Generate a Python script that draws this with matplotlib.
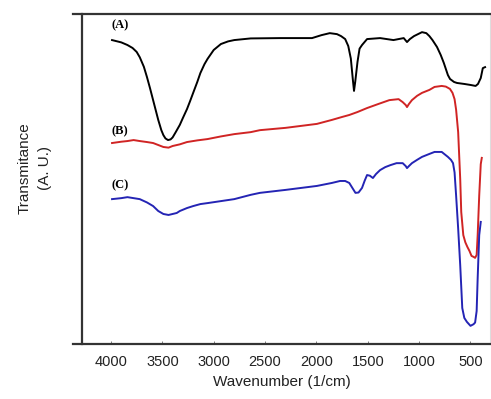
import matplotlib.pyplot as plt

# wavenumber (1/cm) and transmittance (arbitrary units, offset per sample)
wn_a = [3990, 3900, 3840, 3790, 3750, 3720, 3680, 3650, 3620, 3590, 3560,
        3540, 3510, 3490, 3470, 3445, 3420, 3400, 3370, 3330, 3300, 3260,
        3230, 3200, 3160, 3130, 3090, 3060, 3000, 2930, 2860, 2800, 2640,
        2350, 2043, 1950, 1870, 1800, 1760, 1720, 1690, 1665, 1645, 1634,
        1622, 1600, 1580, 1556, 1507, 1380, 1250, 1150, 1118, 1090, 1050,
        972, 930, 900, 870, 826, 790, 760, 720, 699, 660, 631, 560, 500,
        450, 427, 400, 380, 358]
tr_a = [92.1, 91.4, 90.6, 89.7, 88.5, 86.9, 84.0, 80.9, 77.5, 73.9, 70.3,
        67.9, 64.8, 63.3, 62.3, 61.8, 62.0, 62.6, 64.2, 66.4, 68.5, 71.2,
        73.6, 76.1, 79.4, 82.1, 84.8, 86.4, 89.1, 90.9, 91.7, 92.1, 92.6,
        92.7, 92.7, 93.6, 94.2, 93.9, 93.3, 92.4, 90.3, 86.5, 80.0, 76.7,
        79.5, 85.5, 89.5, 90.6, 92.4, 92.7, 92.1, 92.7, 91.5, 92.4, 93.3,
        94.5, 94.2, 93.3, 92.1, 90.0, 87.6, 85.2, 81.5, 80.3, 79.4, 79.1,
        78.8, 78.5, 78.2, 78.8, 80.6, 83.6, 83.9]

wn_b = [3990, 3900, 3840, 3780, 3720, 3650, 3590, 3540, 3490, 3440, 3400,
        3330, 3260, 3160, 3060, 2930, 2800, 2640, 2550, 2300, 1995, 1850,
        1750, 1680, 1600, 1507, 1400, 1290, 1200, 1160, 1130, 1118, 1100,
        1070, 1020, 972, 900, 850, 780, 740, 700, 675, 655, 640, 620, 600,
        590, 570, 550, 530, 510, 490, 470, 455, 440, 430, 415, 400, 390]
tr_b = [60.9, 61.3, 61.5, 61.8, 61.5, 61.2, 60.9, 60.3, 59.7, 59.5, 60.0,
        60.5, 61.2, 61.7, 62.1, 62.9, 63.6, 64.2, 64.8, 65.5, 66.7, 67.9,
        68.8, 69.4, 70.3, 71.5, 72.7, 73.9, 74.2, 73.3, 72.4, 71.8, 72.7,
        73.9, 75.2, 76.1, 77.0, 77.9, 78.2, 78.0, 77.3, 76.1, 74.2, 71.0,
        64.2, 50.0, 40.0, 33.0, 30.8, 29.4, 28.2, 26.7, 26.4, 26.1, 27.0,
        33.0, 45.0, 54.5, 56.4]

wn_c = [3990, 3900, 3840, 3780, 3720, 3650, 3590, 3540, 3490, 3440, 3400,
        3360, 3330, 3260, 3200, 3130, 3060, 2930, 2800, 2640, 2550, 2300,
        1995, 1850, 1770, 1720, 1680, 1650, 1620, 1590, 1556, 1530, 1507,
        1480, 1450, 1420, 1380, 1330, 1280, 1220, 1160, 1130, 1118, 1100,
        1070, 1020, 972, 900, 850, 780, 720, 690, 670, 655, 640, 620, 600,
        580, 560, 535, 500, 470, 455, 440, 430, 415, 400]
tr_c = [43.9, 44.2, 44.5, 44.2, 43.9, 42.9, 41.8, 40.3, 39.4, 39.1, 39.4,
        39.7, 40.3, 41.2, 41.8, 42.4, 42.7, 43.3, 43.9, 45.2, 45.8, 46.7,
        47.9, 48.8, 49.4, 49.4, 48.8, 47.3, 45.8, 45.9, 47.3, 49.5, 51.2,
        51.0, 50.3, 51.5, 52.7, 53.6, 54.2, 54.8, 54.8, 53.9, 53.3, 53.9,
        54.8, 55.8, 56.7, 57.6, 58.2, 58.2, 56.7, 55.8, 54.8, 52.0, 45.0,
        35.0, 23.9, 10.9, 7.9, 6.7, 5.5, 6.0, 6.5, 10.0, 20.0, 33.0, 37.0]

labels = ['(A)', '(B)', '(C)']
label_pos = [(4000, 96.7), (4000, 64.5), (4000, 48.2)]

fig = plt.figure(figsize=(4.91, 3.99), dpi=100)
ax = fig.add_axes([73 / 491, 55 / 399, 417 / 491, 330 / 399])

ax.plot(wn_a, tr_a, color='black', lw=1.4)
ax.plot(wn_b, tr_b, color='#d02424', lw=1.4)
ax.plot(wn_c, tr_c, color='#2424b4', lw=1.4)

for lab, (x, y) in zip(labels, label_pos):
    ax.text(x, y, lab, family='Liberation Serif', fontweight='bold',
            fontsize=9, ha='left', va='center')

ax.set_xlim(4370, 310)
ax.set_ylim(0, 100)
ax.set_xticks([4000, 3500, 3000, 2500, 2000, 1500, 1000, 500])
ax.set_yticks([])
ax.tick_params(axis='x', direction='in', length=2, width=0.6,
               colors='#666666', labelcolor='#222222', labelsize=10.5,
               pad=8)
for lab in ax.get_xticklabels():
    lab.set_family('Liberation Sans')

ax.spines['left'].set_position(('axes', 9 / 417))
for s in ['left', 'top', 'bottom']:
    ax.spines[s].set_linewidth(1.6)
    ax.spines[s].set_color('#333333')
ax.spines['right'].set_color('#dddddd')
ax.spines['right'].set_linewidth(0.8)

ax.set_xlabel('Wavenumber (1/cm)', family='Liberation Sans', fontsize=11,
              color='#222222', labelpad=4)
fig.text(25 / 491, 1 - 168 / 399, 'Transmitance', rotation=90,
         family='Liberation Sans', fontsize=11, color='#222222',
         ha='center', va='center')
fig.text(45 / 491, 1 - 168 / 399, '(A. U.)', rotation=90,
         family='Liberation Sans', fontsize=11, color='#222222',
         ha='center', va='center')

fig.savefig('out.png', dpi=100)
